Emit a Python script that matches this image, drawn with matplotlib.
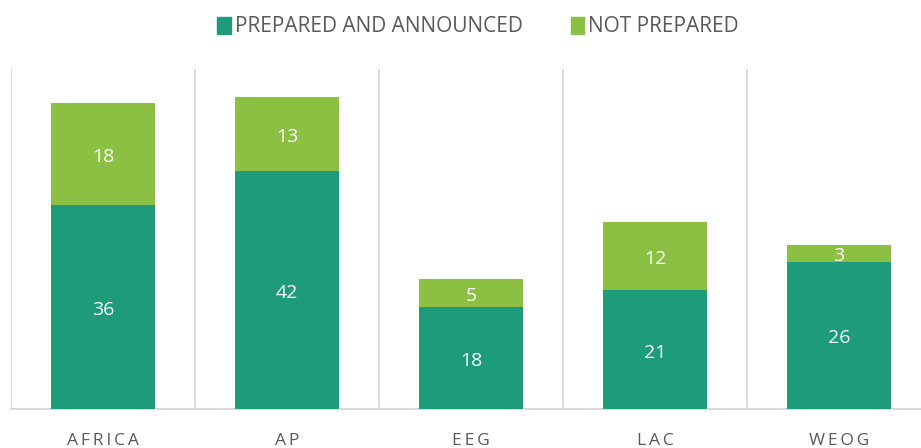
import numpy as np
import matplotlib
matplotlib.use("Agg")
import matplotlib.pyplot as plt
from matplotlib.patches import Patch

regions = ["AFRICA", "AP", "EEG", "LAC", "WEOG"]
prepared = [36, 42, 18, 21, 26]
not_prepared = [18, 13, 5, 12, 3]

dark = "#1e9b7b"
light = "#8bc043"
grey = "#d9d9d9"
txt = "#595959"

plt.rcParams["font.family"] = ["Open Sans", "DejaVu Sans"]

fig = plt.figure(figsize=(9.21, 4.48), dpi=100)
ax = fig.add_axes([11 / 921, 39 / 448, 920 / 921, 340 / 448])

x = np.arange(len(regions))
w = 0.565
ax.bar(x, prepared, w, color=dark, zorder=3)
ax.bar(x, not_prepared, w, bottom=prepared, color=light, zorder=3)

# value labels, nudged down a little like Excel does
for xi, p, n in zip(x, prepared, not_prepared):
    ax.annotate(str(p), (xi, p / 2), xytext=(0, -2.2), textcoords="offset points",
                ha="center", va="center", color="white", fontsize=14, zorder=4)
    ax.annotate(str(n), (xi, p + n / 2), xytext=(0, -2.2), textcoords="offset points",
                ha="center", va="center", color="white", fontsize=14, zorder=4)

# separators between categories
for sx in np.arange(-0.5, len(regions), 1.0):
    ax.axvline(sx, color=grey, lw=1.3, zorder=1)

ax.set_xlim(-0.5, 4.5)
ax.set_ylim(0, 60)
ax.set_yticks([])
for s in ["top", "right", "left"]:
    ax.spines[s].set_visible(False)
ax.spines["bottom"].set_color(grey)
ax.spines["bottom"].set_linewidth(1.5)

spaced = ["\u2009".join(r) for r in regions]
ax.set_xticks(x, spaced, fontsize=12.5, color=txt)
ax.tick_params(axis="x", length=0, pad=17.5)

handles = [Patch(color=dark), Patch(color=light)]
fig.legend(handles, ["PREPARED AND ANNOUNCED", "NOT PREPARED"],
           loc="center", bbox_to_anchor=(0.519, 0.94), ncol=2, frameon=False,
           fontsize=15, labelcolor=txt, handlelength=0.65, handleheight=0.9,
           handletextpad=0.2, columnspacing=2.3)

fig.savefig("out.png", dpi=100)
